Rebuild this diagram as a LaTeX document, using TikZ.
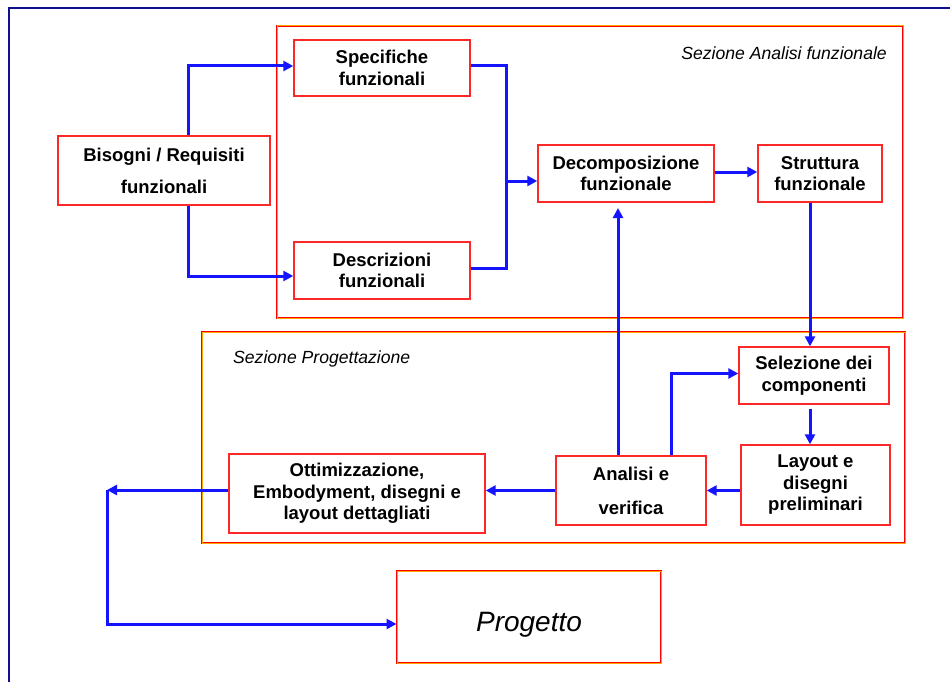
\documentclass[tikz,border=0pt]{standalone}
\usepackage{fontspec}
\setmainfont{Liberation Sans}
\usetikzlibrary{arrows.meta}
\definecolor{navyframe}{RGB}{16,16,140}
\definecolor{flowblue}{RGB}{20,20,255}
\definecolor{boxred}{RGB}{255,40,40}
\definecolor{secorange}{RGB}{255,165,0}

\begin{document}
\begin{tikzpicture}[x=1pt,y=-1pt,
  box/.style={draw=boxred, line width=1.4pt, inner sep=0pt, align=center,
    font=\bfseries\fontsize{18.5}{21.5}\selectfont},
  section/.style={preaction={draw=red, line width=2.4pt},
    draw=secorange, line width=1pt, inner sep=0pt},
  arr/.style={draw=flowblue, line width=3pt, -{Triangle[length=10pt,width=10pt]}},
  wire/.style={draw=flowblue, line width=3pt},
  seclabel/.style={inner sep=0pt, font=\itshape\fontsize{17.6}{20}\selectfont}]

\useasboundingbox (0,0) rectangle (950,682);
\fill[white] (0,0) rectangle (950,682);

% outer frame (runs off the page on the right and at the bottom)
\draw[navyframe, line width=2.8pt] (9,700) -- (9,8) -- (960,8);

% the two sections
\node[section, minimum width=626pt, minimum height=292pt] (secA) at (590,172) {};
\node[seclabel, anchor=east] (secAlabel) at (887,53) {Sezione Analisi funzionale};
\node[section, minimum width=703pt, minimum height=211pt] (secP) at (553.5,437.5) {};
\node[seclabel, anchor=west] (secPlabel) at (233,359) {Sezione Progettazione};

% blocks
\node[box, minimum width=212pt, minimum height=69pt,
  font=\bfseries\fontsize{18.5}{32}\selectfont] (bis) at (164,170.5)
  {Bisogni / Requisiti\\funzionali};
\node[box, minimum width=176pt, minimum height=56pt] (spec) at (382,68)
  {Specifiche\\funzionali};
\node[box, minimum width=176pt, minimum height=57pt] (desc) at (382,270.5)
  {Descrizioni\\funzionali};
\node[box, minimum width=176pt, minimum height=57pt] (dec) at (626,173.5)
  {Decomposizione\\funzionale};
\node[box, minimum width=124pt, minimum height=57pt] (str) at (820,173.5)
  {Struttura\\funzionale};
\node[box, minimum width=150pt, minimum height=57pt] (sel) at (814,375.5)
  {Selezione dei\\componenti};
\node[box, minimum width=149pt, minimum height=80pt] (lay) at (815.5,485)
  {Layout e\\disegni\\preliminari};
\node[box, minimum width=150pt, minimum height=69pt,
  font=\bfseries\fontsize{18.5}{34}\selectfont] (ana) at (631,490.5)
  {Analisi e\\verifica};
\node[box, minimum width=256pt, minimum height=79pt] (ott) at (357,493.5)
  {Ottimizzazione,\\Embodyment, disegni e\\layout dettagliati};
\node[section, minimum width=264pt, minimum height=92pt,
  text height=28pt, text depth=0pt,
  font=\itshape\fontsize{28}{32}\selectfont] (prog) at (529,617) {Progetto};

% bend points
\coordinate (jn) at (506,181);
\coordinate (aup) at (618,208);
\coordinate (cn) at (107,490);

% connectors
\draw[arr] ([xshift=24pt]bis.north) |- ([yshift=2pt]spec.west);
\draw[arr] ([xshift=24pt]bis.south) |- ([yshift=-5.5pt]desc.west);
\draw[wire] ([yshift=2pt]spec.east) -| (jn);
\draw[wire] ([yshift=2.5pt]desc.east) -| (jn);
\draw[arr] (jn) -- (jn -| dec.west);
\draw[arr] ([yshift=1.5pt]dec.east) -- ([yshift=1.5pt]str.west);
\draw[arr] ([xshift=-10pt]str.south) -- ([xshift=-10pt]str.south |- sel.north);
\draw[arr] ([xshift=-4pt,yshift=-4pt]sel.south) -- ([xshift=-4pt]sel.south |- lay.north);
\draw[arr] (ana.east -| lay.west) -- (ana.east);
\draw[arr] (aup |- ana.north) -- (aup);
\draw[arr] ([xshift=40pt]ana.north) |- ([yshift=2pt]sel.west);
\draw[arr] (ana.west) -- (ana.west -| ott.east);
\draw[arr] (cn -| ott.west) -- (cn);
\draw[arr] (cn) |- ([yshift=-7pt]prog.west);
\end{tikzpicture}
\end{document}
